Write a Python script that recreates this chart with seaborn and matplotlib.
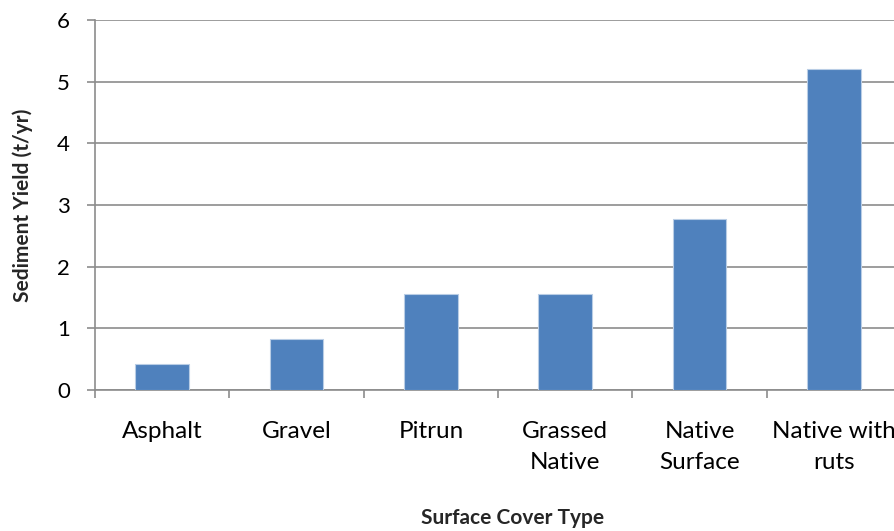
import matplotlib
matplotlib.use("Agg")
import matplotlib.pyplot as plt
import seaborn as sns
import pandas as pd
from matplotlib.ticker import FixedLocator

categories = ["Asphalt", "Gravel", "Pitrun", "Grassed\nNative", "Native\nSurface", "Native with\nruts"]
sediment_yield = [0.42, 0.83, 1.56, 1.56, 2.77, 5.2]
y_ticks = [0, 1, 2, 3, 4, 5, 6]

sns.set_theme(style="white")
plt.rcParams["font.family"] = ["Lato", "DejaVu Sans"]

df = pd.DataFrame({"cover": categories, "yield": sediment_yield})

fig = plt.figure(figsize=(8.94, 5.31), dpi=100)
ax = fig.add_axes([0.1063, 0.2655, 0.9016, 0.6968])

sns.barplot(data=df, x="cover", y="yield", color="#4F81BD", saturation=1,
            width=0.4, edgecolor="#B9CDE5", linewidth=0.8, ax=ax, zorder=3)

grid_col = "#8C8C8C"
ax.set_ylim(0, 6)
ax.set_xlim(-0.5, len(categories) - 0.5)
ax.set_yticks(y_ticks)
ax.yaxis.grid(True, color=grid_col, linewidth=1.2, zorder=0)
ax.set_axisbelow(True)

for side in ["top", "right"]:
    ax.spines[side].set_visible(False)
for side in ["left", "bottom"]:
    ax.spines[side].set_color(grid_col)
    ax.spines[side].set_linewidth(1.2)

ax.tick_params(axis="y", which="major", length=6, width=1.2, color=grid_col,
               labelsize=16, pad=12, labelcolor="black", left=True)
ax.tick_params(axis="x", which="major", length=0, labelsize=17.5, pad=22, labelcolor="black")
ax.xaxis.set_minor_locator(FixedLocator([i - 0.5 for i in range(len(categories) + 1)]))
ax.tick_params(axis="x", which="minor", length=6, width=1.2, color=grid_col, bottom=True)
for lbl in ax.get_xticklabels():
    lbl.set_linespacing(1.6)
    lbl.set_verticalalignment("top")

# Axis titles, placed in axes coordinates
ax.set_xlabel("Surface Cover Type", fontsize=15, fontweight="bold")
ax.set_ylabel("Sediment Yield (t/yr)", fontsize=15, fontweight="bold")
ax.xaxis.set_label_coords(0.5174, -0.346)
ax.xaxis.label.set_verticalalignment("center")
ax.yaxis.set_label_coords(-0.0893, 0.5)
ax.yaxis.label.set_verticalalignment("center")

fig.savefig("out.png", dpi=100)
